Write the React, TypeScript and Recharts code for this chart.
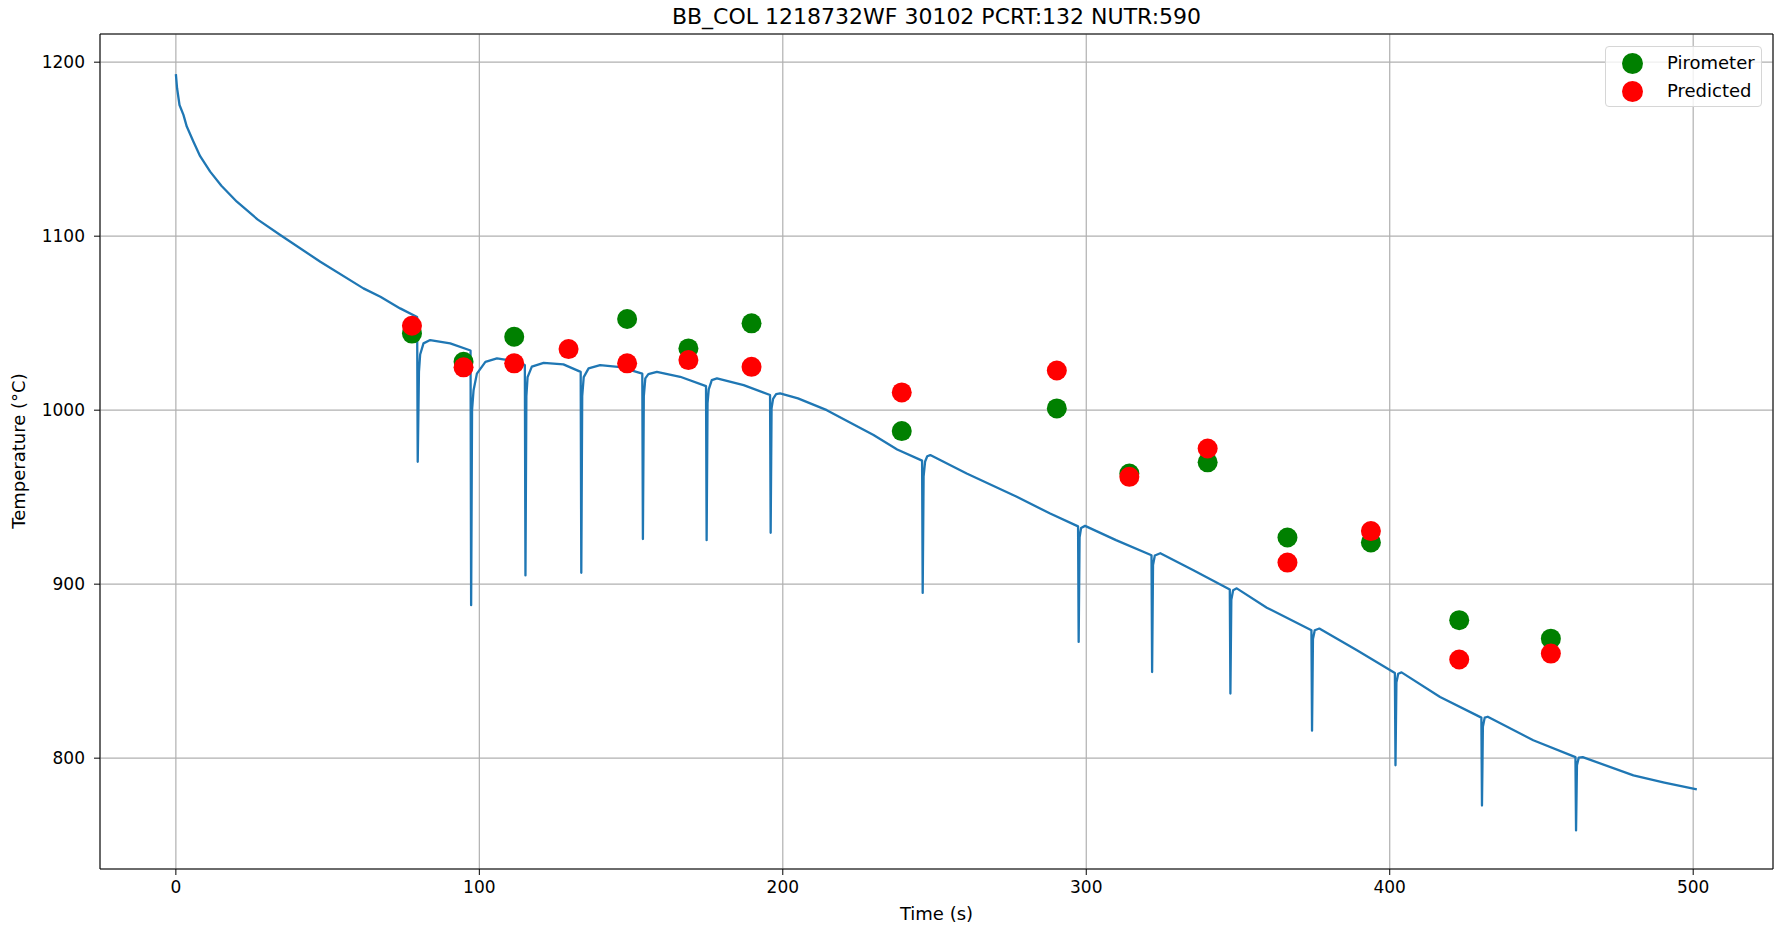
import React from 'react';
import {
  ComposedChart,
  Line,
  Scatter,
  XAxis,
  YAxis,
  CartesianGrid,
  ReferenceLine,
} from 'recharts';

const TITLE = 'BB_COL 1218732WF 30102 PCRT:132 NUTR:590';
const X_LABEL = 'Time (s)';
const Y_LABEL = 'Temperature (°C)';

const xTicks = [0, 100, 200, 300, 400, 500];
const yTicks = [800, 900, 1000, 1100, 1200];

// simulated surface temperature (spikes = descaling)
const curveTime = [
  0, 0.4, 1.2, 2.5, 3.6, 5.8, 8, 11.3, 15, 20.1, 27, 34.4, 47.6, 61.8, 67.4, 73.9, 79.5,
  79.7, 80.1, 80.5, 81.6, 83.8, 90.4, 97.1,
  97.3, 97.6, 98.1, 99.2, 102, 105.8, 110, 115.0,
  115.2, 115.5, 115.9, 117.3, 121.2, 127.7, 133.4,
  133.6, 133.9, 134.4, 136, 139.8, 146.5, 153.7,
  153.9, 154.2, 154.7, 155.7, 158.5, 166.2, 174.7,
  174.9, 175.2, 175.6, 176.6, 178.3, 187.1, 195.8,
  196.0, 196.3, 196.8, 197.8, 199.1, 205, 214.5, 229.9, 237.7, 245.9,
  246.1, 246.4, 246.9, 247.6, 248.6, 260.6, 277.1, 288.1, 297.3,
  297.5, 297.8, 298.3, 299.6, 309.8, 321.5,
  321.7, 322.0, 322.6, 324.4, 335.3, 347.3,
  347.5, 347.8, 348.4, 349.6, 359.5, 374.2,
  374.4, 374.7, 375.3, 376.8, 389.2, 401.7,
  401.9, 402.2, 402.8, 403.9, 416.6, 430.2,
  430.4, 430.7, 431.3, 432.3, 447.3, 461.2,
  461.4, 461.7, 462.3, 463.6, 480.3, 490.5, 501.2,
];
const curveTemp = [
  1193.1, 1185, 1175.4, 1169.7, 1163, 1154.3, 1146, 1137.1, 1129, 1119.8, 1109.5, 1100.7, 1085.3, 1070, 1065.2, 1058.5, 1053.5,
  970.3, 1022, 1032, 1038.4, 1040.3, 1038.4, 1034.3,
  887.9, 1000, 1011.5, 1021, 1027.8, 1029.8, 1028.6, 1025.9,
  905, 1008, 1019, 1025, 1027.2, 1026.3, 1022,
  906.5, 1008, 1019, 1024, 1025.9, 1024.8, 1021,
  925.9, 1008, 1018.3, 1020.7, 1022, 1019.2, 1013.8,
  925.3, 1004, 1012, 1017.3, 1018.3, 1014.4, 1008.7,
  929.5, 1001, 1006.5, 1009.2, 1009.6, 1006.8, 1000, 985.7, 977.4, 971,
  895, 962, 970.5, 973.5, 974.2, 963.6, 950.2, 940.6, 933.2,
  866.8, 927, 932.3, 933.5, 925.3, 916.6,
  849.5, 911, 916.5, 917.8, 908, 896.9,
  837.1, 891, 896.5, 897.6, 886.5, 873.5,
  815.8, 868.5, 873.5, 874.5, 862, 849,
  795.9, 843.5, 848.5, 849.3, 835.2, 823.3,
  772.8, 818, 823.3, 823.8, 810.3, 800.6,
  758.5, 796, 800.3, 800.6, 790.1, 786, 782.1,
];

const pyroTime = [77.8, 94.8, 111.5, 148.7, 168.9, 189.7, 239.2, 290.3, 314.2, 340, 366.3, 393.8, 422.9, 453.1];
const pyroTemp = [1044, 1027.8, 1042.2, 1052.4, 1035.5, 1049.9, 988, 1001, 963.6, 970, 926.8, 924, 879.3, 868.7];

const predTime = [77.8, 94.8, 111.5, 129.4, 148.7, 168.9, 189.7, 239.2, 290.3, 314.2, 340, 366.3, 393.8, 422.9, 453.1];
const predTemp = [1048.5, 1024.6, 1026.9, 1035.1, 1026.9, 1028.8, 1024.9, 1010.2, 1022.8, 961.7, 978, 912.4, 930.5, 856.7, 860.1];

const curveData = curveTime.map((t, i) => ({ t, temp: curveTemp[i] }));
const pyroData = pyroTime.map((t, i) => ({ t, temp: pyroTemp[i] }));
const predData = predTime.map((t, i) => ({ t, temp: predTemp[i] }));

const X_DOMAIN = [-25, 526.3];
const Y_DOMAIN = [736.3, 1216.2];

const FONT = '"DejaVu Sans", sans-serif';

const dot = (color) => (props) => (
  <circle cx={props.cx} cy={props.cy} r={10} fill={color} />
);

const App = () => {
  const tickStyle = { fontSize: 17, fill: '#000', fontFamily: FONT };

  return (
    <div style={{ position: 'absolute', left: 0, top: 0, width: 1776, height: 929, background: '#fff', fontFamily: FONT }}>
      <ComposedChart
        width={1776}
        height={929}
        margin={{ top: 34, right: 3, bottom: 0, left: 0 }}
      >
        <CartesianGrid stroke="#b0b0b0" strokeWidth={1.2} />
        <XAxis
          dataKey="t"
          type="number"
          domain={X_DOMAIN}
          allowDataOverflow
          ticks={xTicks}
          height={60}
          tick={tickStyle}
          tickSize={6}
          tickMargin={6}
          stroke="#000"
        />
        <YAxis
          dataKey="temp"
          type="number"
          domain={Y_DOMAIN}
          allowDataOverflow
          ticks={yTicks}
          width={100}
          tick={tickStyle}
          tickSize={6}
          tickMargin={9}
          stroke="#000"
        />
        <ReferenceLine y={Y_DOMAIN[1]} stroke="#000" />
        <ReferenceLine x={X_DOMAIN[1]} stroke="#000" />
        <Line
          data={curveData}
          dataKey="temp"
          type="linear"
          stroke="#1f77b4"
          strokeWidth={2.3}
          strokeLinejoin="round"
          dot={false}
          isAnimationActive={false}
        />
        <Scatter
          data={pyroData}
          dataKey="temp"
          fill="#008000"
          shape={dot('#008000')}
          isAnimationActive={false}
        />
        <Scatter
          data={predData}
          dataKey="temp"
          fill="#ff0000"
          shape={dot('#ff0000')}
          isAnimationActive={false}
        />
      </ComposedChart>

      {/* title */}
      <div style={{ position: 'absolute', left: 100, width: 1673, top: 3, textAlign: 'center', fontSize: 22, lineHeight: '28px', color: '#000' }}>
        {TITLE}
      </div>

      {/* axis labels */}
      <div style={{ position: 'absolute', left: 100, width: 1673, top: 903, textAlign: 'center', fontSize: 18, lineHeight: '22px', color: '#000' }}>
        {X_LABEL}
      </div>
      <div
        style={{
          position: 'absolute',
          left: 19,
          top: 451,
          transform: 'translate(-50%, -50%) rotate(-90deg)',
          fontSize: 18,
          lineHeight: '22px',
          whiteSpace: 'nowrap',
          color: '#000',
        }}
      >
        {Y_LABEL}
      </div>

      {/* legend */}
      <div
        style={{
          position: 'absolute',
          left: 1605,
          top: 46,
          width: 157,
          height: 61,
          boxSizing: 'border-box',
          border: '1px solid #d6d6d6',
          borderRadius: 4,
          background: 'rgba(255,255,255,0.8)',
          fontSize: 18,
          color: '#000',
        }}
      >
        {[
          ['Pirometer', '#008000'],
          ['Predicted', '#ff0000'],
        ].map(([name, color], i) => (
          <div key={name} style={{ position: 'absolute', left: 0, top: 4 + i * 28, height: 24, display: 'flex', alignItems: 'center' }}>
            <span style={{ display: 'inline-block', width: 21, height: 21, borderRadius: '50%', background: color, marginLeft: 16 }} />
            <span style={{ marginLeft: 24, lineHeight: '24px' }}>{name}</span>
          </div>
        ))}
      </div>
    </div>
  );
};

export default App;
